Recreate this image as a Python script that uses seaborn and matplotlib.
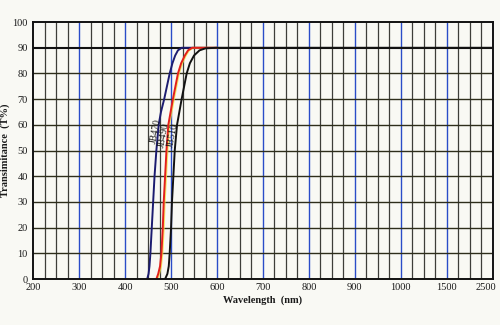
import numpy as np
import pandas as pd
import matplotlib
matplotlib.use("Agg")
import matplotlib.pyplot as plt
import matplotlib.patheffects as pe
import matplotlib.transforms as mtrans
from matplotlib.ticker import FixedLocator
import seaborn as sns

# Axis break points: uniform spacing on paper, uneven wavelengths
x_ticks = [200, 300, 400, 500, 600, 700, 800, 900, 1000, 1500, 2500]
y_ticks = list(range(0, 101, 10))

# Filter transmittance curves (wavelength nm, T%); all plateau at 90 %
jb470_nm = [448, 451, 453, 455, 458, 461, 464, 468, 473, 478, 485, 497, 503, 509, 515, 523, 600]
jb470_t = [0, 2, 5, 10, 20, 30, 40, 50, 60, 65, 70, 80, 84, 87, 89, 90, 90]
jb490_nm = [468, 472, 476, 479, 482, 484, 487, 490, 494, 504, 515, 522, 530, 537, 546, 600]
jb490_t = [0, 2, 5, 10, 20, 30, 40, 50, 60, 70, 80, 84, 87, 89, 90, 90]
jb510_nm = [487, 492, 495, 497, 500, 502, 505, 508, 513, 523, 534, 541, 550, 562, 575, 600, 2500]
jb510_t = [0, 2, 5, 10, 20, 30, 40, 50, 60, 70, 80, 84, 87, 89, 89.8, 90, 90]

names = ["JB470", "JB490", "JB510"]
colors = ["#1c1c70", "#e3201c", "#121212"]
label_pos = [(467, 57.5), (483, 56), (504.5, 56)]

df = pd.concat([
    pd.DataFrame({"nm": jb470_nm, "T": jb470_t, "filter": "JB470"}),
    pd.DataFrame({"nm": jb490_nm, "T": jb490_t, "filter": "JB490"}),
    pd.DataFrame({"nm": jb510_nm, "T": jb510_t, "filter": "JB510"}),
], ignore_index=True)

sns.set_theme(style="white")
plt.rcParams["font.family"] = ["Liberation Serif", "DejaVu Serif"]

bg = "#f9f9f4"
fig = plt.figure(figsize=(5.0, 3.25), dpi=100, facecolor=bg)
ax = fig.add_axes([0.0666, 0.1415, 0.9184, 0.7905])
ax.set_facecolor(bg)

idx = np.arange(len(x_ticks), dtype=float)
fwd = lambda v: np.interp(v, x_ticks, idx)
inv = lambda p: np.interp(p, idx, x_ticks)
ax.set_xscale("function", functions=(fwd, inv))
ax.set_xlim(200, 2500)
ax.set_ylim(0, 100)

# Grid: quarter divisions between labelled wavelengths
minor_x = [inv(p) for p in np.arange(0, len(x_ticks) - 1, 0.25) if p % 1 != 0]
ax.xaxis.set_major_locator(FixedLocator(x_ticks))
ax.xaxis.set_minor_locator(FixedLocator(minor_x))
ax.set_xticklabels([str(v) for v in x_ticks])
ax.yaxis.set_major_locator(FixedLocator(y_ticks))

for v in minor_x:
    ax.axvline(v, color="#3e3e3a", lw=0.9, zorder=1)
for v in x_ticks[1:-1]:
    ax.axvline(v, color="#2a4cc8", lw=1.0, zorder=1.2)
for v in y_ticks[1:-1]:
    ax.axhline(v, color="#111111" if v == 90 else "#2e2e1c", lw=1.5 if v == 90 else 1.0, zorder=1.5)

sns.lineplot(data=df, x="nm", y="T", hue="filter", hue_order=names, palette=colors,
             lw=1.4, legend=False, sort=False, ax=ax)
curves = ax.lines[-3:]
for z, ln in zip([3.0, 3.1, 3.2], curves):
    ln.set_zorder(z)
curves[1].set_path_effects([pe.SimpleLineShadow(offset=(0.7, 0), shadow_color="#f4e040", alpha=0.8), pe.Normal()])

for name, (x, y) in zip(names, label_pos):
    ax.text(x, y, name, rotation=79, fontsize=7, color="#151515",
            ha="center", va="center", zorder=4)

for s in ax.spines.values():
    s.set_color("#111111")
    s.set_linewidth(1.4)
    s.set_zorder(5)

ax.tick_params(axis="both", which="both", length=0, labelsize=7.5, colors="#1a1a1a")
ax.tick_params(axis="x", pad=3)
ax.tick_params(axis="y", pad=4)
ax.set_xlabel("Wavelength  (nm)", fontsize=7.5, fontweight="bold", color="#1a1a1a", labelpad=2)
ax.set_ylabel("Transimitance  (T%)", fontsize=7.5, fontweight="bold", color="#1a1a1a", labelpad=2)

# keep the last wavelength label inside the figure
last = ax.get_xticklabels()[-1]
last.set_transform(last.get_transform() + mtrans.ScaledTranslation(-5 / 72, 0, fig.dpi_scale_trans))

fig.savefig("out.png", dpi=100, facecolor=bg)
